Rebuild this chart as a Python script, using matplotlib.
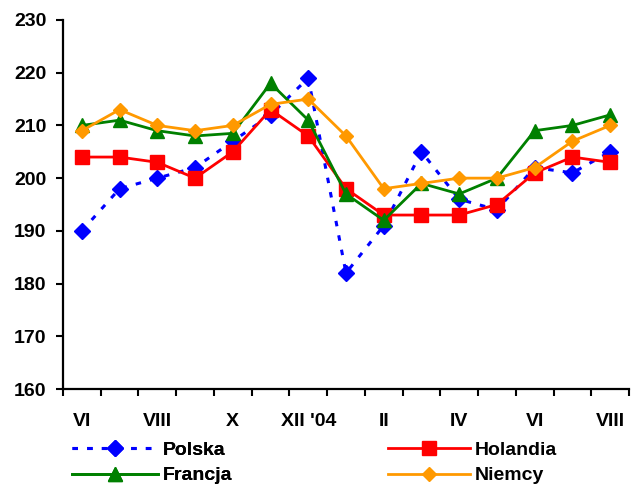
import numpy as np
import matplotlib
matplotlib.use('Agg')
import matplotlib.pyplot as plt

plt.rcParams['font.family'] = ['Liberation Sans', 'DejaVu Sans']
plt.rcParams['font.weight'] = 'bold'

# dane
miesiace = ['VI', 'VII', 'VIII', 'IX', 'X', 'XI', "XII '04", 'I', 'II', 'III',
            'IV', 'V', 'VI', 'VII', 'VIII']
polska = [190, 198, 200, 202, 207, 212, 219, 182, 191, 205, 196, 194, 202, 201, 205]
holandia = [204, 204, 203, 200, 205, 213, 208, 198, 193, 193, 193, 195, 201, 204, 203]
francja = [210, 211, 209, 208, 208.5, 218, 211, 197, 192, 199, 197, 200, 209, 210, 212]
niemcy = [209, 213, 210, 209, 210, 214, 215, 208, 198, 199, 200, 200, 202, 207, 210]

W, H = 631, 488
fig = plt.figure(figsize=(W / 100, H / 100), dpi=100)
ax = fig.add_axes([63 / W, 1 - 389 / H, (629 - 63) / W, (389 - 20) / H])

x = np.arange(len(miesiace))
l1, = ax.plot(x, polska, color='#0000FF', lw=2.2, ls=(0, (1.8, 3)), marker='D',
              ms=8.5, label='Polska', clip_on=False)
l2, = ax.plot(x, holandia, color='#FF0000', lw=2, marker='s', ms=9.5,
              label='Holandia', clip_on=False)
l3, = ax.plot(x, francja, color='#008000', lw=2, marker='^', ms=10,
              label='Francja', clip_on=False)
l4, = ax.plot(x, niemcy, color='#FF9900', lw=2, marker='D', ms=7.5,
              label='Niemcy', clip_on=False)

ax.set_ylim(160, 230)
ax.set_xlim(-0.5, len(miesiace) - 0.5)
ax.set_yticks(np.arange(160, 231, 10))
ax.set_xticks(x[::2])
ax.set_xticklabels(miesiace[::2])
ax.set_xticks(np.arange(-0.5, len(miesiace)), minor=True)

for s in ['top', 'right']:
    ax.spines[s].set_visible(False)
for s in ['left', 'bottom']:
    ax.spines[s].set_linewidth(1.6)

ax.tick_params(axis='y', direction='out', length=5, width=1.5, pad=7, labelsize=14)
ax.tick_params(axis='x', which='major', length=0, pad=17, labelsize=14)
ax.tick_params(axis='x', which='minor', direction='out', length=5, width=1.5)

leg1 = fig.legend([l1, l3], ['Polska', 'Francja'], loc='upper left',
                  bbox_to_anchor=(72 / W, 1 - 441 / H), frameon=False,
                  borderpad=0, borderaxespad=0, handlelength=4.4,
                  handletextpad=0.25, labelspacing=0.42, fontsize=14)
leg2 = fig.legend([l2, l4], ['Holandia', 'Niemcy'], loc='upper left',
                  bbox_to_anchor=(388 / W, 1 - 441 / H), frameon=False,
                  borderpad=0, borderaxespad=0, handlelength=4.2,
                  handletextpad=0.25, labelspacing=0.42, fontsize=14)
fig.add_artist(leg1)

fig.savefig('out.png', dpi=100)
